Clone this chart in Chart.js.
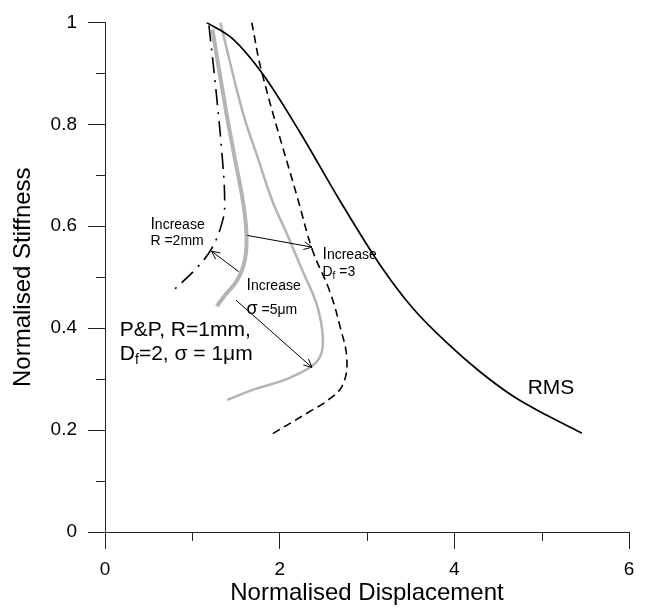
<!DOCTYPE html>
<html>
<head>
<meta charset="utf-8">
<script src="https://cdn.jsdelivr.net/npm/chart.js@4.4.1/dist/chart.umd.min.js"></script>
<style>
  html, body { margin: 0; padding: 0; background: #fff; }
  #wrap { width: 646px; height: 610px; }
</style>
</head>
<body>
<div id="wrap"><canvas id="myChart" width="646" height="610"></canvas></div>
<script>
// values: normalised displacement (x) vs normalised stiffness (y)
var rmsX = [1.16, 1.46, 1.80, 2.23, 2.69, 3.15, 3.52, 3.91, 4.29, 4.67, 5.06, 5.46]
var rmsY = [1.00, 0.968, 0.900, 0.785, 0.650, 0.524, 0.440, 0.372, 0.315, 0.267, 0.229, 0.194]

var df3X = [1.68, 1.80, 2.21, 2.38, 2.57, 2.69, 2.77, 2.72, 2.57, 2.34, 1.92]
var df3Y = [1.00, 0.899, 0.652, 0.551, 0.474, 0.404, 0.338, 0.288, 0.261, 0.236, 0.193]

var sig5X = [1.32, 1.58, 1.74, 1.92, 2.07, 2.26, 2.42, 2.49, 2.48, 2.38, 2.08, 1.69, 1.40]
var sig5Y = [1.00, 0.822, 0.739, 0.648, 0.590, 0.513, 0.449, 0.391, 0.352, 0.327, 0.300, 0.279, 0.259]

var ppX = [1.23, 1.39, 1.48, 1.58, 1.62, 1.60, 1.51, 1.39, 1.28]
var ppY = [0.986, 0.822, 0.739, 0.648, 0.584, 0.532, 0.493, 0.468, 0.443]

var r2X = [1.19, 1.27, 1.35, 1.37, 1.35, 1.23, 1.06, 0.77]
var r2Y = [0.994, 0.868, 0.720, 0.648, 0.613, 0.559, 0.520, 0.472]

var xTicks = [0, 2, 4, 6]
var xMinorTicks = [1, 3, 5]
var yTicks = [0, 0.2, 0.4, 0.6, 0.8, 1]
var yMinorTicks = [0.1, 0.3, 0.5, 0.7, 0.9]
var yTickLabels = ['0', '0.2', '0.4', '0.6', '0.8', '1']
var xTickLabels = ['0', '2', '4', '6']

// arrows: [tailX, tailY, headX, headY]
var arrows = [
  [1.53, 0.511, 1.22, 0.551],
  [1.63, 0.582, 2.37, 0.559],
  [1.50, 0.455, 2.37, 0.323]
]

var FONT = "'Liberation Sans', Arial, sans-serif"

function pts(xs, ys) {
  var out = []
  for (var i = 0; i < xs.length; i++) out.push({x: xs[i], y: ys[i]})
  return out
}

// text pieces: [text, size, dy]
function drawPieces(ctx, x, y, pieces) {
  for (var i = 0; i < pieces.length; i++) {
    var p = pieces[i]
    ctx.font = p[1] + 'px ' + FONT
    ctx.fillText(p[0], x, y + (p[2] || 0))
    x += ctx.measureText(p[0]).width
  }
}

var notes = [
  [0.52, 0.594, [['I', 16], ['ncrease', 14]]],
  [0.52, 0.563, [['R =2mm', 14]]],
  [2.49, 0.536, [['I', 16], ['ncrease', 14]]],
  [2.49, 0.503, [['D', 14], ['f', 10, 3], [' =3', 14]]],
  [1.62, 0.474, [['I', 16], ['ncrease', 14]]],
  [1.62, 0.427, [['σ', 18], [' =5μm', 14]]],
  [0.17, 0.385, [['P&P, R=1mm,', 21]]],
  [0.17, 0.337, [['D', 21], ['f', 14, 4], ['=2, σ = 1μm', 21]]],
  [4.84, 0.271, [['RMS', 21]]]
]

var annotate = {
  id: 'annotate',
  afterDraw: function(chart) {
    var ctx = chart.ctx
    var xs = chart.scales.x, ys = chart.scales.y
    ctx.save()
    // minor ticks
    ctx.strokeStyle = '#222'
    ctx.lineWidth = 1
    ctx.beginPath()
    yMinorTicks.forEach(function(v) {
      var py = Math.round(ys.getPixelForValue(v)) + 0.5
      ctx.moveTo(xs.left - 9, py); ctx.lineTo(xs.left, py)
    })
    xMinorTicks.forEach(function(v) {
      var px = Math.round(xs.getPixelForValue(v)) + 0.5
      ctx.moveTo(px, ys.bottom); ctx.lineTo(px, ys.bottom + 9)
    })
    ctx.stroke()

    // arrows
    ctx.strokeStyle = '#000'
    ctx.lineWidth = 1
    arrows.forEach(function(a) {
      var x1 = xs.getPixelForValue(a[0]), y1 = ys.getPixelForValue(a[1])
      var x2 = xs.getPixelForValue(a[2]), y2 = ys.getPixelForValue(a[3])
      var ang = Math.atan2(y2 - y1, x2 - x1)
      ctx.beginPath()
      ctx.moveTo(x1, y1); ctx.lineTo(x2, y2)
      ctx.moveTo(x2 - 9 * Math.cos(ang - 0.45), y2 - 9 * Math.sin(ang - 0.45))
      ctx.lineTo(x2, y2)
      ctx.lineTo(x2 - 9 * Math.cos(ang + 0.45), y2 - 9 * Math.sin(ang + 0.45))
      ctx.stroke()
    })

    // labels
    ctx.fillStyle = '#000'
    ctx.textBaseline = 'alphabetic'
    ctx.textAlign = 'left'
    notes.forEach(function(n) {
      drawPieces(ctx, xs.getPixelForValue(n[0]), ys.getPixelForValue(n[1]), n[2])
    })
    ctx.restore()
  }
}

var ctx = document.getElementById('myChart').getContext('2d')
var chart = new Chart(ctx, {
  type: 'scatter',
  data: {
    datasets: [
      { label: 'RMS', data: pts(rmsX, rmsY), borderColor: '#000', borderWidth: 1.7, cubicInterpolationMode: 'monotone' },
      { label: 'Df=3', data: pts(df3X, df3Y), borderColor: '#000', borderWidth: 1.6, borderDash: [8, 5] },
      { label: 'sigma=5um', data: pts(sig5X, sig5Y), borderColor: '#b4b4b4', borderWidth: 2.5 },
      { label: 'P&P', data: pts(ppX, ppY), borderColor: '#b4b4b4', borderWidth: 4 },
      { label: 'R=2mm', data: pts(r2X, r2Y), borderColor: '#000', borderWidth: 1.6, borderDash: [16, 7, 2, 7] }
    ]
  },
  options: {
    responsive: false,
    animation: false,
    showLine: true,
    datasets: { scatter: { showLine: true } },
    elements: {
      point: { radius: 0, hoverRadius: 0 },
      line: { tension: 0.4, fill: false, borderCapStyle: 'butt' }
    },
    layout: { padding: { left: 0, top: 15, right: 17, bottom: 0 } },
    plugins: { legend: { display: false }, tooltip: { enabled: false } },
    scales: {
      x: {
        type: 'linear', min: 0, max: 6,
        afterFit: function(s) { s.height = 78 },
        afterBuildTicks: function(s) { s.ticks = xTicks.map(function(v) { return {value: v} }) },
        ticks: {
          color: '#000', padding: 9, font: { family: FONT, size: 19 },
          callback: function(v) { return xTickLabels[xTicks.indexOf(v)] }
        },
        grid: { drawOnChartArea: false, drawTicks: true, tickLength: 17, tickColor: '#222' },
        border: { display: true, color: '#222', width: 1 },
        title: { display: true, text: 'Normalised Displacement', color: '#000',
          font: { family: FONT, size: 24 }, padding: { top: 0, bottom: 2 } }
      },
      y: {
        type: 'linear', min: 0, max: 1,
        afterFit: function(s) { s.width = 105 },
        afterBuildTicks: function(s) { s.ticks = yTicks.map(function(v) { return {value: v} }) },
        ticks: {
          color: '#000', padding: 11, font: { family: FONT, size: 19 },
          callback: function(v) { return yTickLabels[yTicks.indexOf(v)] }
        },
        grid: { drawOnChartArea: false, drawTicks: true, tickLength: 17, tickColor: '#222' },
        border: { display: true, color: '#222', width: 1 },
        title: { display: true, text: 'Normalised Stiffness', color: '#000',
          font: { family: FONT, size: 24 }, padding: { top: 9, bottom: 0 } }
      }
    }
  },
  plugins: [annotate]
})
</script>
</body>
</html>
